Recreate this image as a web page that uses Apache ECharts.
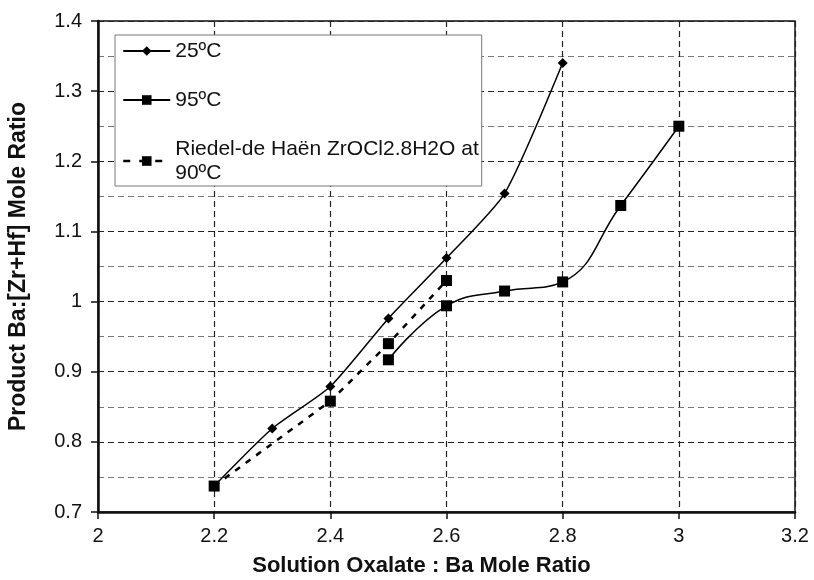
<!DOCTYPE html>
<html>
<head>
<meta charset="utf-8">
<title>Ba:[Zr+Hf] mole ratio</title>
<script src="https://cdn.jsdelivr.net/npm/echarts@6/dist/echarts.min.js"></script>
<style>
  html, body { margin: 0; padding: 0; background: #fff; }
  #main { width: 814px; height: 580px; }
</style>
</head>
<body>
<div id="main"></div>

<script type="text/javascript">
// values
var ratio25 = [2.2, 2.3, 2.4, 2.5, 2.6, 2.7, 2.8];
var mole25 = [0.737, 0.819, 0.879, 0.976, 1.062, 1.154, 1.340];

var ratio95 = [2.5, 2.6, 2.7, 2.8, 2.9, 3.0];
var mole95 = [0.917, 0.994, 1.015, 1.028, 1.137, 1.250];

var ratioRiedel = [2.2, 2.4, 2.5, 2.6];
var moleRiedel = [0.737, 0.858, 0.940, 1.030];

var seriesNames = ['25ºC', '95ºC', 'Riedel-de Haën ZrOCl2.8H2O at\n90ºC'];

function pairs(xs, ys) {
    var out = [];
    for (var i = 0; i < xs.length; i++) {
        out.push([xs[i], ys[i]]);
    }
    return out;
}

var font = '"Liberation Sans", Arial, sans-serif';
var myChart = echarts.init(document.getElementById('main'));

var option = {
    backgroundColor: '#fff',
    animation: false,
    grid: {
        left: 98, right: 19, top: 21, bottom: 68,
        outerBoundsMode: 'none',
        containLabel: false,
        show: true,
        borderColor: '#111',
        borderWidth: 1.5
    },
    legend: {
        orient: 'vertical',
        left: 115, top: 35,
        padding: [4, 3, 1, 7],
        itemWidth: 47,
        itemHeight: 12,
        itemGap: 25,
        backgroundColor: '#fff',
        borderColor: '#777',
        borderWidth: 1,
        borderRadius: 0,
        textStyle: { fontFamily: font, fontSize: 21, color: '#111', lineHeight: 24 },
        data: [
            { name: seriesNames[0] },
            { name: seriesNames[1] },
            { name: seriesNames[2], lineStyle: { width: 2.5, type: [7, 9] } }
        ]
    },
    xAxis: {
        type: 'value',
        min: 2, max: 3.2, interval: 0.2,
        name: 'Solution Oxalate : Ba Mole Ratio',
        nameLocation: 'middle',
        nameGap: 43,
        nameTextStyle: { fontFamily: font, fontSize: 22, fontWeight: 'bold', color: '#111', padding: [0, 50, 0, 0] },
        axisLine: { onZero: false, lineStyle: { color: '#111', width: 2.5 } },
        axisTick: { show: true, length: 7, lineStyle: { color: '#111', width: 1.5 } },
        axisLabel: { fontFamily: font, fontSize: 20, color: '#111', margin: 14 },
        splitLine: { show: true, lineStyle: { color: '#222', width: 1.2, type: [6, 4] } }
    },
    yAxis: {
        type: 'value',
        min: 0.7, max: 1.4, interval: 0.1,
        name: 'Product Ba:[Zr+Hf] Mole Ratio',
        nameLocation: 'middle',
        nameGap: 68,
        nameTextStyle: { fontFamily: font, fontSize: 23, fontWeight: 'bold', color: '#111' },
        axisLine: { onZero: false, lineStyle: { color: '#111', width: 2.5 } },
        axisTick: { show: true, length: 7, lineStyle: { color: '#111', width: 1.5 } },
        axisLabel: { fontFamily: font, fontSize: 20, color: '#111', margin: 16 },
        splitLine: { show: true, lineStyle: { color: '#222', width: 1.2, type: [6, 4] } },
        minorTick: { show: false, splitNumber: 2 },
        minorSplitLine: { show: true, lineStyle: { color: '#777', width: 1, type: [6, 4] } }
    },
    series: [
        {
            name: seriesNames[0],
            type: 'line',
            smooth: 0.2,
            symbol: 'diamond',
            symbolSize: 10,
            itemStyle: { color: '#000' },
            lineStyle: { color: '#000', width: 1.5 },
            data: pairs(ratio25, mole25)
        },
        {
            name: seriesNames[1],
            type: 'line',
            smooth: 0.45,
            symbol: 'rect',
            symbolSize: 11,
            itemStyle: { color: '#000' },
            lineStyle: { color: '#000', width: 1.5 },
            data: pairs(ratio95, mole95)
        },
        {
            name: seriesNames[2],
            type: 'line',
            smooth: false,
            symbol: 'rect',
            symbolSize: 11,
            z: 3,
            itemStyle: { color: '#000' },
            lineStyle: { color: '#000', width: 2.5, type: [6, 7] },
            data: pairs(ratioRiedel, moleRiedel)
        }
    ]
};

myChart.setOption(option);
</script>
</body>
</html>
